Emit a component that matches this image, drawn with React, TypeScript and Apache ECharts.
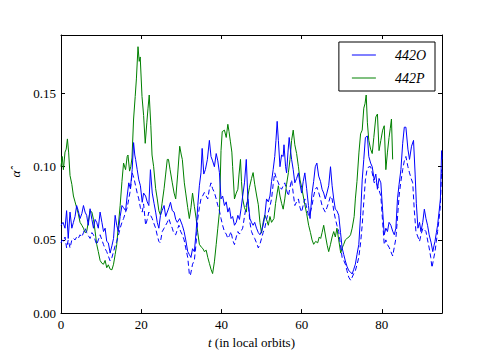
import React, { useEffect, useRef } from "react";
import * as echarts from "echarts";

// 442O (solid blue): [t, value]
const seriesO: number[][] = [
  [0, 0.060], [0.5, 0.062], [1.0, 0.058], [1.4, 0.070], [1.8, 0.051], [2.25, 0.069], [2.7, 0.058], [3.1, 0.062],
  [3.5, 0.066], [3.9, 0.0735], [4.3, 0.070], [4.75, 0.0646], [5.2, 0.068], [5.6, 0.0735], [6.0, 0.069], [6.4, 0.0668],
  [6.8, 0.060], [7.25, 0.0713], [7.7, 0.064], [8.1, 0.058], [8.5, 0.064], [8.9, 0.062], [9.3, 0.058], [9.75, 0.069],
  [10.2, 0.062], [10.6, 0.0557], [11.0, 0.058], [11.4, 0.049], [11.8, 0.048], [12.25, 0.041], [12.7, 0.046], [13.1, 0.051],
  [13.5, 0.0668], [13.9, 0.060], [14.3, 0.0557], [14.75, 0.066], [15.2, 0.0735], [15.6, 0.072], [16.1, 0.070], [16.5, 0.080],
  [16.9, 0.089], [17.3, 0.085], [17.75, 0.098], [18.1, 0.1165], [18.4, 0.108], [18.6, 0.105], [19.0, 0.098], [19.4, 0.091],
  [19.8, 0.087], [20.25, 0.0757], [20.6, 0.082], [21.1, 0.080], [21.5, 0.076], [21.9, 0.0735], [22.3, 0.098], [22.75, 0.082],
  [23.2, 0.075], [23.6, 0.069], [24.0, 0.062], [24.4, 0.058], [24.8, 0.0668], [25.2, 0.070], [25.7, 0.0735], [26.1, 0.066],
  [26.5, 0.069], [26.9, 0.072], [27.3, 0.0757], [27.75, 0.070], [28.2, 0.069], [28.6, 0.064], [29.0, 0.062], [29.6, 0.0646],
  [30.25, 0.060], [30.7, 0.0557], [31.1, 0.050], [31.6, 0.042], [32.0, 0.040], [32.4, 0.038], [32.8, 0.044], [33.25, 0.042],
  [33.7, 0.0557], [34.1, 0.0735], [34.5, 0.087], [34.9, 0.0958], [35.2, 0.1125], [35.6, 0.095], [36.0, 0.098], [36.5, 0.105],
  [37.0, 0.118], [37.4, 0.107], [37.8, 0.104], [38.25, 0.100], [38.7, 0.109], [39.1, 0.104], [39.5, 0.096], [39.9, 0.078],
  [40.3, 0.080], [40.75, 0.0735], [41.2, 0.076], [41.6, 0.069], [42.0, 0.072], [42.4, 0.0646], [42.8, 0.066], [43.25, 0.060],
  [43.7, 0.062], [44.1, 0.0668], [44.5, 0.064], [44.9, 0.0713], [45.3, 0.080], [45.75, 0.089], [46.2, 0.105], [46.6, 0.078],
  [47.1, 0.0646], [47.5, 0.062], [47.9, 0.060], [48.3, 0.062], [48.75, 0.058], [49.2, 0.055], [49.6, 0.0535], [50.0, 0.056],
  [50.4, 0.060], [50.8, 0.066], [51.25, 0.078], [51.7, 0.076], [52.1, 0.080], [52.5, 0.090], [52.9, 0.098], [53.3, 0.107],
  [53.6, 0.118], [53.9, 0.131], [54.2, 0.118], [54.6, 0.100], [55.0, 0.108], [55.4, 0.107], [55.6, 0.115], [56.0, 0.100],
  [56.25, 0.0958], [56.6, 0.110], [56.9, 0.120], [57.2, 0.112], [57.5, 0.105], [57.9, 0.098], [58.3, 0.089], [58.75, 0.092],
  [59.2, 0.0958], [59.6, 0.088], [60.0, 0.082], [60.4, 0.090], [60.8, 0.0958], [61.25, 0.085], [61.7, 0.0735], [62.1, 0.0646],
  [62.6, 0.082], [63.0, 0.090], [63.4, 0.100], [63.8, 0.1025], [64.25, 0.0936], [64.7, 0.090], [65.1, 0.0846], [65.5, 0.082],
  [65.9, 0.078], [66.3, 0.082], [66.75, 0.087], [67.2, 0.100], [67.6, 0.087], [68.0, 0.078], [68.4, 0.071], [68.8, 0.070],
  [69.25, 0.0668], [69.7, 0.055], [70.1, 0.0445], [70.5, 0.040], [70.9, 0.0356], [71.3, 0.032], [71.75, 0.029], [72.2, 0.028],
  [72.6, 0.0267], [73.0, 0.030], [73.4, 0.0334], [73.8, 0.040], [74.25, 0.0468], [74.7, 0.0668], [75.1, 0.091], [75.5, 0.105],
  [75.9, 0.120], [76.4, 0.121], [76.75, 0.107], [77.2, 0.1025], [77.6, 0.100], [78.1, 0.091], [78.5, 0.095], [78.9, 0.0846],
  [79.3, 0.092], [79.75, 0.089], [80.2, 0.070], [80.6, 0.0535], [81.0, 0.058], [81.4, 0.0557], [81.8, 0.062], [82.25, 0.060],
  [82.7, 0.056], [83.1, 0.0535], [83.5, 0.058], [83.9, 0.078], [84.3, 0.088], [84.75, 0.098], [85.2, 0.116], [85.6, 0.127],
  [86.0, 0.127], [86.5, 0.112], [86.9, 0.105], [87.4, 0.114], [87.9, 0.118], [88.3, 0.095], [88.6, 0.075], [89.0, 0.058],
  [89.4, 0.062], [89.75, 0.0557], [90.2, 0.062], [90.6, 0.071], [91.0, 0.0646], [91.4, 0.060], [91.8, 0.0535], [92.3, 0.048],
  [92.7, 0.042], [93.0, 0.046], [93.25, 0.049], [93.6, 0.055], [93.9, 0.060], [94.3, 0.070], [94.6, 0.078], [94.9, 0.111],
  [95.0, 0.105],
];

// 442O companion (dashed blue, not in legend): [t, value]
const seriesODashed: number[][] = [
  [0, 0.048], [0.3, 0.050], [0.6, 0.049], [1.0, 0.052], [1.4, 0.0445], [1.8, 0.050], [2.25, 0.0445], [2.7, 0.050],
  [3.1, 0.051], [3.5, 0.050], [3.9, 0.052], [4.3, 0.051], [4.75, 0.0535], [5.2, 0.052], [5.6, 0.055], [6.0, 0.058],
  [6.4, 0.055], [6.8, 0.053], [7.25, 0.051], [7.7, 0.055], [8.1, 0.0535], [8.5, 0.050], [8.9, 0.0468], [9.3, 0.050],
  [9.75, 0.0535], [10.2, 0.050], [10.6, 0.0468], [11.0, 0.044], [11.4, 0.042], [11.8, 0.039], [12.25, 0.0356], [12.7, 0.038],
  [13.1, 0.042], [13.5, 0.046], [13.9, 0.049], [14.3, 0.053], [14.75, 0.058], [15.2, 0.062], [15.6, 0.0646], [16.1, 0.069],
  [16.5, 0.072], [16.9, 0.078], [17.3, 0.084], [17.75, 0.0958], [18.2, 0.092], [18.6, 0.087], [19.0, 0.082], [19.4, 0.078],
  [19.8, 0.072], [20.25, 0.069], [20.6, 0.0746], [21.1, 0.060], [21.5, 0.064], [21.9, 0.069], [22.3, 0.067], [22.75, 0.0646],
  [23.2, 0.061], [23.6, 0.058], [24.0, 0.053], [24.4, 0.049], [24.75, 0.048], [25.25, 0.0557], [25.7, 0.058], [26.1, 0.060],
  [26.5, 0.062], [26.9, 0.0646], [27.3, 0.061], [27.75, 0.058], [28.1, 0.0546], [28.6, 0.0535], [29.0, 0.057], [29.4, 0.060],
  [29.8, 0.056], [30.25, 0.0535], [30.7, 0.050], [31.1, 0.0445], [31.6, 0.038], [32.0, 0.0267], [32.25, 0.0256], [32.8, 0.0334],
  [33.25, 0.036], [33.7, 0.048], [34.1, 0.0646], [34.5, 0.072], [34.9, 0.078], [35.3, 0.080], [35.75, 0.0824], [36.2, 0.080],
  [36.6, 0.078], [37.0, 0.085], [37.4, 0.089], [37.8, 0.085], [38.25, 0.0824], [38.7, 0.078], [39.1, 0.0735], [39.5, 0.070],
  [39.9, 0.0646], [40.3, 0.060], [40.75, 0.0557], [41.2, 0.054], [41.6, 0.051], [42.0, 0.053], [42.4, 0.0557], [42.8, 0.050],
  [43.25, 0.0468], [43.7, 0.052], [44.1, 0.0557], [44.5, 0.054], [44.9, 0.056], [45.3, 0.058], [45.75, 0.066], [46.2, 0.0735],
  [46.6, 0.078], [47.1, 0.062], [47.5, 0.0557], [47.9, 0.053], [48.3, 0.051], [48.75, 0.048], [49.2, 0.0445], [49.6, 0.047],
  [50.0, 0.051], [50.4, 0.055], [50.8, 0.058], [51.25, 0.064], [51.7, 0.069], [52.1, 0.073], [52.5, 0.078], [52.9, 0.088],
  [53.3, 0.0958], [53.7, 0.092], [54.2, 0.089], [54.6, 0.086], [55.0, 0.0846], [55.4, 0.087], [55.8, 0.089], [56.25, 0.084],
  [56.7, 0.080], [57.1, 0.086], [57.5, 0.091], [57.9, 0.082], [58.3, 0.0735], [58.75, 0.076], [59.2, 0.078], [59.6, 0.072],
  [60.0, 0.069], [60.4, 0.074], [60.8, 0.078], [61.25, 0.072], [61.7, 0.0668], [62.1, 0.068], [62.6, 0.0735], [63.0, 0.080],
  [63.4, 0.0846], [63.8, 0.086], [64.25, 0.0824], [64.7, 0.078], [65.1, 0.0735], [65.5, 0.071], [65.9, 0.069], [66.3, 0.072],
  [66.75, 0.0757], [67.2, 0.080], [67.6, 0.078], [68.0, 0.070], [68.4, 0.0646], [68.8, 0.060], [69.25, 0.0557], [69.7, 0.046],
  [70.1, 0.038], [70.5, 0.036], [70.9, 0.0334], [71.3, 0.029], [71.75, 0.0245], [72.25, 0.0223], [72.6, 0.0245], [73.0, 0.027],
  [73.4, 0.029], [73.8, 0.033], [74.25, 0.038], [74.7, 0.048], [75.1, 0.060], [75.5, 0.076], [75.9, 0.091], [76.3, 0.098],
  [76.75, 0.100], [77.2, 0.100], [77.6, 0.0958], [78.1, 0.089], [78.5, 0.090], [78.9, 0.087], [79.3, 0.084], [79.75, 0.080],
  [80.2, 0.062], [80.6, 0.0468], [81.0, 0.050], [81.4, 0.0468], [81.8, 0.045], [82.25, 0.042], [82.7, 0.039], [83.1, 0.045],
  [83.5, 0.051], [83.9, 0.065], [84.3, 0.080], [84.75, 0.090], [85.2, 0.098], [85.6, 0.104], [86.0, 0.107], [86.5, 0.100],
  [86.9, 0.0958], [87.3, 0.092], [87.7, 0.089], [88.1, 0.070], [88.5, 0.0557], [89.0, 0.052], [89.4, 0.049], [89.8, 0.054],
  [90.25, 0.058], [90.6, 0.057], [91.0, 0.0557], [91.4, 0.050], [91.8, 0.0445], [92.2, 0.038], [92.5, 0.031], [92.9, 0.037],
  [93.25, 0.042], [93.6, 0.049], [93.9, 0.0557], [94.3, 0.065], [94.6, 0.0735], [94.9, 0.098], [95.0, 0.094],
];

// 442P (solid green): [t, value]
const seriesP: number[][] = [
  [0, 0.100], [0.3, 0.107], [0.6, 0.098], [1.0, 0.110], [1.3, 0.112], [1.6, 0.119], [1.9, 0.110], [2.25, 0.094],
  [2.7, 0.088], [3.1, 0.080], [3.5, 0.076], [3.9, 0.072], [4.3, 0.068], [4.75, 0.062], [5.2, 0.060], [5.6, 0.058],
  [6.0, 0.055], [6.4, 0.0557], [6.8, 0.062], [7.25, 0.070], [7.7, 0.069], [8.1, 0.064], [8.5, 0.056], [8.9, 0.047],
  [9.3, 0.042], [9.75, 0.036], [10.2, 0.034], [10.6, 0.0334], [11.0, 0.036], [11.4, 0.031], [11.8, 0.033], [12.25, 0.030],
  [12.7, 0.0296], [13.1, 0.0334], [13.5, 0.040], [13.9, 0.0468], [14.3, 0.060], [14.75, 0.0735], [15.2, 0.090], [15.6, 0.1025],
  [16.1, 0.098], [16.5, 0.107], [16.7, 0.108], [17.1, 0.097], [17.4, 0.100], [17.7, 0.106], [18.1, 0.1326], [18.5, 0.148],
  [18.8, 0.160], [19.2, 0.182], [19.5, 0.172], [19.75, 0.175], [20.2, 0.148], [20.6, 0.135], [21.0, 0.116], [21.4, 0.130],
  [21.7, 0.140], [22.0, 0.149], [22.4, 0.128], [22.7, 0.108], [23.1, 0.100], [23.6, 0.085], [24.0, 0.078], [24.4, 0.070],
  [24.8, 0.067], [25.2, 0.075], [25.7, 0.085], [26.1, 0.095], [26.5, 0.105], [26.8, 0.105], [27.2, 0.098], [27.75, 0.089],
  [28.2, 0.082], [28.6, 0.078], [29.1, 0.095], [29.6, 0.114], [30.0, 0.108], [30.25, 0.105], [30.75, 0.089], [31.1, 0.082],
  [31.6, 0.072], [32.0, 0.0646], [32.4, 0.072], [32.8, 0.082], [33.25, 0.073], [33.7, 0.0646], [34.1, 0.055], [34.5, 0.047],
  [35.0, 0.045], [35.4, 0.044], [35.75, 0.042], [36.2, 0.043], [36.6, 0.038], [37.0, 0.034], [37.4, 0.030], [37.8, 0.027],
  [38.25, 0.035], [38.7, 0.047], [39.1, 0.058], [39.5, 0.069], [39.9, 0.111], [40.2, 0.124], [40.75, 0.125], [41.2, 0.120],
  [41.6, 0.129], [41.9, 0.124], [42.25, 0.117], [42.6, 0.110], [42.8, 0.100], [43.25, 0.078], [43.7, 0.082], [44.1, 0.0846],
  [44.4, 0.095], [44.75, 0.105], [45.0, 0.090], [45.3, 0.078], [45.75, 0.072], [46.2, 0.069], [46.6, 0.080], [47.0, 0.086],
  [47.5, 0.092], [47.9, 0.096], [48.3, 0.088], [48.8, 0.080], [49.2, 0.074], [49.6, 0.062], [50.0, 0.0546], [50.4, 0.062],
  [50.8, 0.067], [51.25, 0.064], [51.7, 0.060], [52.1, 0.066], [52.5, 0.062], [53.1, 0.0646], [53.5, 0.075], [53.9, 0.082],
  [54.2, 0.087], [54.6, 0.080], [55.0, 0.075], [55.4, 0.071], [55.8, 0.078], [56.25, 0.088], [56.7, 0.096], [57.1, 0.105],
  [57.5, 0.118], [57.9, 0.125], [58.3, 0.115], [58.75, 0.109], [59.2, 0.100], [59.6, 0.091], [60.0, 0.086], [60.4, 0.080],
  [60.8, 0.074], [61.25, 0.068], [61.75, 0.060], [62.2, 0.055], [62.6, 0.050], [63.0, 0.047], [63.5, 0.049], [64.0, 0.048],
  [64.4, 0.052], [64.75, 0.051], [65.1, 0.055], [65.5, 0.060], [66.0, 0.052], [66.4, 0.046], [66.75, 0.042], [67.2, 0.047],
  [67.6, 0.052], [68.0, 0.0557], [68.4, 0.052], [68.8, 0.058], [69.25, 0.050], [69.75, 0.041], [70.1, 0.0445], [70.5, 0.047],
  [70.9, 0.050], [71.3, 0.051], [71.8, 0.052], [72.2, 0.0535], [72.6, 0.058], [73.1, 0.066], [73.4, 0.078], [73.8, 0.090],
  [74.3, 0.110], [74.7, 0.1225], [75.1, 0.125], [75.5, 0.140], [75.8, 0.143], [76.1, 0.149], [76.4, 0.130], [76.75, 0.118],
  [77.2, 0.112], [77.6, 0.109], [78.0, 0.120], [78.5, 0.134], [78.9, 0.136], [79.3, 0.111], [79.75, 0.118], [80.2, 0.125],
  [80.6, 0.128], [81.0, 0.098], [81.4, 0.110], [81.8, 0.120], [82.1, 0.126], [82.4, 0.1326], [82.7, 0.105],
];

const xTicks = [0, 20, 40, 60, 80];
const yTicks = [0.0, 0.05, 0.1, 0.15];
const legendNames = ["442O", "442P"];

const FONT = "'Liberation Serif', 'Times New Roman', serif";

const isIn = (list: number[], v: number) => list.some((t) => Math.abs(t - v) < 1e-9);

export default function App() {
  const ref = useRef<HTMLDivElement>(null);
  useEffect(() => {
    if (!ref.current) return;
    const chart = echarts.init(ref.current, null, { renderer: "svg" });
    const axisLine = { show: true, onZero: false, lineStyle: { color: "#000", width: 1 } };
    const axisTick = { show: true, inside: true, length: 4, lineStyle: { color: "#000", width: 1 } };
    chart.setOption({
      animation: false,
      backgroundColor: "#fff",
      grid: { left: 61, right: 49, top: 35, bottom: 36, containLabel: false },
      legend: {
        data: legendNames,
        icon: "rect",
        right: 56,
        top: 42,
        orient: "vertical",
        backgroundColor: "#fff",
        borderColor: "#000",
        borderWidth: 1,
        borderRadius: 0,
        padding: [5, 9, 5, 13],
        itemGap: 7,
        itemWidth: 24,
        itemHeight: 1,
        textStyle: {
          fontFamily: FONT,
          fontStyle: "italic",
          fontSize: 14,
          lineHeight: 16,
          color: "#000",
          padding: [0, 0, 0, 14],
        },
      },
      xAxis: [
        {
          type: "value",
          min: 0,
          max: 95,
          interval: 20,
          position: "bottom",
          axisLine,
          axisTick,
          splitLine: { show: false },
          axisLabel: {
            fontFamily: FONT,
            fontSize: 13,
            color: "#000",
            margin: 5,
            formatter: (v: number) => (isIn(xTicks, v) ? String(v) : ""),
          },
          name: "{i|t} (in local orbits)",
          nameLocation: "middle",
          nameGap: 21,
          nameTextStyle: {
            fontFamily: FONT,
            fontSize: 13,
            color: "#000",
            rich: { i: { fontFamily: FONT, fontStyle: "italic", fontSize: 13, color: "#000" } },
          },
        },
        {
          type: "value",
          min: 0,
          max: 95,
          interval: 20,
          position: "top",
          axisLine,
          axisTick,
          splitLine: { show: false },
          axisLabel: { show: false },
        },
      ],
      yAxis: [
        {
          type: "value",
          min: 0,
          max: 0.19,
          interval: 0.05,
          position: "left",
          axisLine,
          axisTick,
          splitLine: { show: false },
          axisLabel: {
            fontFamily: FONT,
            fontSize: 13,
            color: "#000",
            margin: 5,
            formatter: (v: number) => (isIn(yTicks, v) ? v.toFixed(2) : ""),
          },
          name: "α\u0302",
          nameLocation: "middle",
          nameRotate: 90,
          nameGap: 33,
          nameTextStyle: { fontFamily: FONT, fontStyle: "italic", fontSize: 13, color: "#000" },
        },
        {
          type: "value",
          min: 0,
          max: 0.19,
          interval: 0.05,
          position: "right",
          axisLine,
          axisTick,
          splitLine: { show: false },
          axisLabel: { show: false },
        },
      ],
      series: [
        {
          name: "442O",
          type: "line",
          data: seriesO,
          showSymbol: false,
          symbol: "none",
          lineStyle: { color: "#0000ff", width: 1 },
          itemStyle: { color: "#0000ff" },
          z: 3,
        },
        {
          name: "442P",
          type: "line",
          data: seriesP,
          showSymbol: false,
          symbol: "none",
          lineStyle: { color: "#008000", width: 1 },
          itemStyle: { color: "#008000" },
          z: 2,
        },
        {
          name: "442O (dashed)",
          type: "line",
          data: seriesODashed,
          showSymbol: false,
          symbol: "none",
          lineStyle: { color: "#0000ff", width: 1, type: [5, 3] },
          itemStyle: { color: "#0000ff" },
          z: 3,
        },
      ],
    });
    return () => chart.dispose();
  }, []);
  return <div ref={ref} style={{ width: 491, height: 354, position: "absolute", left: 0, top: 0 }} />;
}
